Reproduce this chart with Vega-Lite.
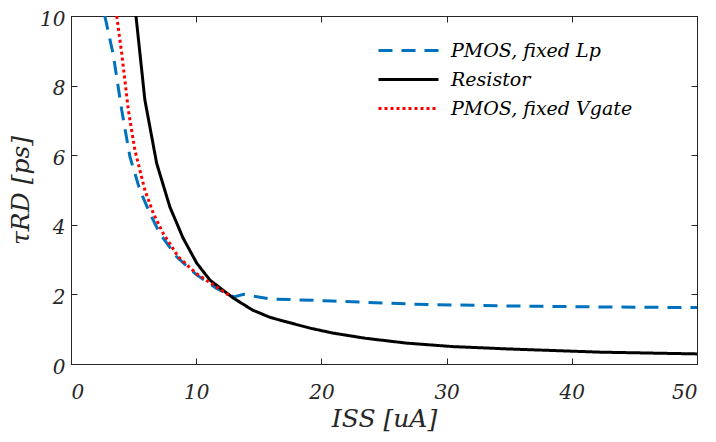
{
  "$schema": "https://vega.github.io/schema/vega-lite/v6.json",
  "width": 626,
  "height": 348,
  "autosize": "none",
  "padding": {"left": 71, "top": 16, "right": 19, "bottom": 78},
  "background": "white",
  "config": {
    "view": {"stroke": "#262626", "strokeWidth": 1},
    "axis": {
      "grid": false,
      "domainColor": "#262626",
      "tickColor": "#262626",
      "tickSize": -6,
      "labelFont": "DejaVu Serif",
      "labelFontStyle": "italic",
      "labelFontSize": 20,
      "labelColor": "#262626",
      "titleFont": "DejaVu Serif",
      "titleFontStyle": "italic",
      "titleFontWeight": "normal",
      "titleFontSize": 25,
      "titleColor": "#262626"
    }
  },
  "data": {
    "values": [
      {"s": "PMOS, fixed Lp", "x": 2.7, "y": 10},
      {"s": "PMOS, fixed Lp", "x": 3.37, "y": 8.9},
      {"s": "PMOS, fixed Lp", "x": 4.05, "y": 7.3},
      {"s": "PMOS, fixed Lp", "x": 4.71, "y": 5.95},
      {"s": "PMOS, fixed Lp", "x": 5.5, "y": 5.0},
      {"s": "PMOS, fixed Lp", "x": 6.3, "y": 4.33},
      {"s": "PMOS, fixed Lp", "x": 7.1, "y": 3.75},
      {"s": "PMOS, fixed Lp", "x": 8.44, "y": 3.08},
      {"s": "PMOS, fixed Lp", "x": 10.04, "y": 2.56},
      {"s": "PMOS, fixed Lp", "x": 11.6, "y": 2.18},
      {"s": "PMOS, fixed Lp", "x": 12.4, "y": 2.03},
      {"s": "PMOS, fixed Lp", "x": 13.0, "y": 1.93},
      {"s": "PMOS, fixed Lp", "x": 13.8, "y": 2.0},
      {"s": "PMOS, fixed Lp", "x": 15.9, "y": 1.87},
      {"s": "PMOS, fixed Lp", "x": 20.9, "y": 1.81},
      {"s": "PMOS, fixed Lp", "x": 27.3, "y": 1.72},
      {"s": "PMOS, fixed Lp", "x": 34.3, "y": 1.67},
      {"s": "PMOS, fixed Lp", "x": 42.3, "y": 1.64},
      {"s": "PMOS, fixed Lp", "x": 50, "y": 1.62},
      {"s": "Resistor", "x": 5.19, "y": 10},
      {"s": "Resistor", "x": 5.9, "y": 7.59},
      {"s": "Resistor", "x": 6.84, "y": 5.77},
      {"s": "Resistor", "x": 7.9, "y": 4.51},
      {"s": "Resistor", "x": 8.95, "y": 3.62},
      {"s": "Resistor", "x": 10.04, "y": 2.9},
      {"s": "Resistor", "x": 11.1, "y": 2.41},
      {"s": "Resistor", "x": 12.94, "y": 1.9},
      {"s": "Resistor", "x": 14.5, "y": 1.55},
      {"s": "Resistor", "x": 15.9, "y": 1.34},
      {"s": "Resistor", "x": 16.9, "y": 1.24},
      {"s": "Resistor", "x": 19.1, "y": 1.03},
      {"s": "Resistor", "x": 20.9, "y": 0.89},
      {"s": "Resistor", "x": 23.5, "y": 0.74},
      {"s": "Resistor", "x": 26.8, "y": 0.6},
      {"s": "Resistor", "x": 30.5, "y": 0.5},
      {"s": "Resistor", "x": 35.1, "y": 0.43},
      {"s": "Resistor", "x": 42.3, "y": 0.34},
      {"s": "Resistor", "x": 50, "y": 0.29},
      {"s": "PMOS, fixed Vgate", "x": 3.65, "y": 10},
      {"s": "PMOS, fixed Vgate", "x": 4.05, "y": 8.93},
      {"s": "PMOS, fixed Vgate", "x": 4.58, "y": 7.3},
      {"s": "PMOS, fixed Vgate", "x": 5.1, "y": 6.15},
      {"s": "PMOS, fixed Vgate", "x": 5.9, "y": 5.0},
      {"s": "PMOS, fixed Vgate", "x": 6.57, "y": 4.33},
      {"s": "PMOS, fixed Vgate", "x": 7.37, "y": 3.75},
      {"s": "PMOS, fixed Vgate", "x": 8.57, "y": 3.08},
      {"s": "PMOS, fixed Vgate", "x": 10.04, "y": 2.59},
      {"s": "PMOS, fixed Vgate", "x": 11.6, "y": 2.22},
      {"s": "PMOS, fixed Vgate", "x": 12.8, "y": 1.93}
    ]
  },
  "layer": [
    {
      "mark": {"type": "line", "strokeWidth": 3, "clip": true},
      "encoding": {
        "x": {"field": "x", "type": "quantitative", "scale": {"domain": [0, 50], "nice": false},
              "axis": {"values": [0, 10, 20, 30, 40, 50], "title": "ISS [uA]", "labelPadding": 24, "titleY": 42, "titleBaseline": "top"}},
        "y": {"field": "y", "type": "quantitative", "scale": {"domain": [0, 10], "nice": false},
              "axis": {"values": [0, 2, 4, 6, 8, 10], "title": "τRD [ps]", "labelPadding": 12, "labelOffset": 3, "titleX": -38}},
        "color": {"field": "s", "type": "nominal",
          "scale": {"domain": ["PMOS, fixed Lp", "Resistor", "PMOS, fixed Vgate"], "range": ["#0072BD", "#000000", "#FF0000"]},
          "legend": {
            "title": null, "orient": "none", "legendX": 321, "legendY": 18,
            "symbolType": "M-2,0H2", "symbolSize": 900, "symbolStrokeWidth": 3,
            "labelFont": "DejaVu Serif", "labelFontStyle": "italic", "labelFontSize": 19, "labelColor": "#000000",
            "labelOffset": 26, "rowPadding": 2, "labelLimit": 400,
            "labelExpr": "datum.label == 'Resistor' ? 'Resistor' : datum.label == 'PMOS, fixed Lp' ? '\u2002PMOS, fixed Lp' : '\u2002\u2009PMOS, fixed Vgate'"
          }},
        "strokeDash": {"field": "s", "type": "nominal",
          "scale": {"domain": ["PMOS, fixed Lp", "Resistor", "PMOS, fixed Vgate"], "range": [[14, 9], [1, 0], [3, 3]]},
          "legend": null}
      }
    },
    {
      "mark": {"type": "line", "opacity": 0},
      "encoding": {
        "x": {"field": "x", "type": "quantitative", "axis": {"orient": "top", "values": [0, 10, 20, 30, 40, 50], "labels": false, "title": null}},
        "y": {"field": "y", "type": "quantitative", "axis": {"orient": "right", "values": [0, 2, 4, 6, 8, 10], "labels": false, "title": null}}
      }
    }
  ],
  "resolve": {"axis": {"x": "independent", "y": "independent"}}
}
